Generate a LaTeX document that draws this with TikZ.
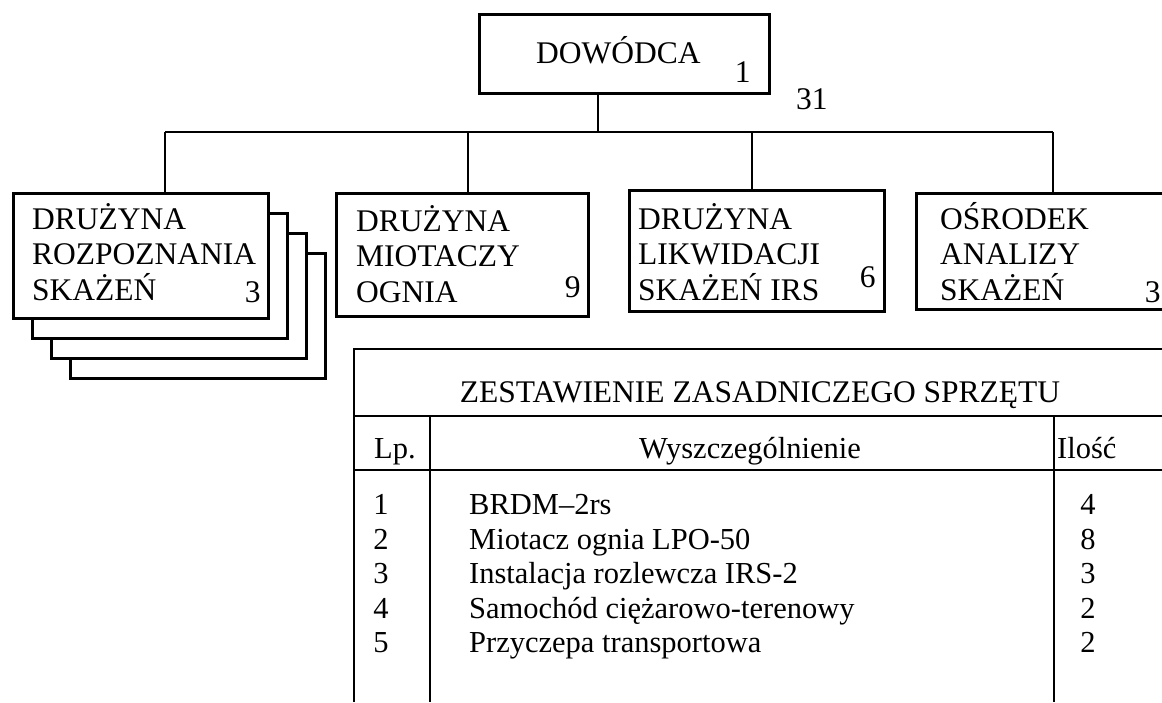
\documentclass[tikz,border=0pt]{standalone}
\usepackage{fontspec}
\setmainfont{Liberation Serif}
\usetikzlibrary{positioning, backgrounds}

\begin{document}
\begin{tikzpicture}[
  x=1pt, y=-1pt,
  %--- style definitions ---
  unitbox/.style  = {rectangle, draw, line width=2.8pt, fill=white,
                     anchor=north west, inner sep=0pt,
                     minimum width=255pt, minimum height=125pt},
  unitname/.style = {align=left, inner sep=0pt, anchor=base west,
                     font=\fontsize{31.5}{35.5}\selectfont},
  headcount/.style= {inner sep=0pt, font=\fontsize{31.5}{35.5}\selectfont},
  link/.style     = {line width=1.3pt},
  tabline/.style  = {line width=1.8pt},
  tabcell/.style  = {inner sep=0pt, anchor=base, font=\fontsize{30.5}{35}\selectfont},
]
\path[use as bounding box] (0,0) rectangle (1162,702);
\clip (0,0) rectangle (1162,702);

%% ── COMMANDER ──────────────────────────────────────────────────────────────
\node[unitbox, minimum width=290pt, minimum height=79pt] (cmd) at (478,13) {};
\node[unitname, below right=50pt and 58pt of cmd.north west, anchor=base west] (cmdT) {DOWÓDCA};
\node[headcount, above left=12pt and 20pt of cmd.south east, anchor=base east] (cmdN) {1};
\node[headcount, below right=15pt and 25pt of cmd.south east, anchor=base west] (total) {31};

%% ── SUBUNITS (anchor = baseline of the last line) ──────────────────────────
\node[unitbox] (rozp) at (12,192) {};
\node[unitname, below right=108pt and 20pt of rozp.north west, anchor=base west] (rozpT)
      {DRUŻYNA\\ROZPOZNANIA\\SKAŻEŃ};
\node[headcount, above left=17pt and 9pt of rozp.south east, anchor=base east] (rozpN) {3};

\node[unitbox, minimum width=252pt, minimum height=123pt] (miot) at (335,192) {};
\node[unitname, below right=110pt and 21pt of miot.north west, anchor=base west] (miotT)
      {DRUŻYNA\\MIOTACZY\\OGNIA};
\node[headcount, above left=20pt and 9pt of miot.south east, anchor=base east] (miotN) {9};

\node[unitbox, minimum height=121pt] (likw) at (628,189) {};
\node[unitname, below right=111pt and 10pt of likw.north west, anchor=base west] (likwT)
      {DRUŻYNA\\LIKWIDACJI\\SKAŻEŃ IRS};
\node[headcount, above left=25pt and 10pt of likw.south east, anchor=base east] (likwN) {6};

\node[unitbox, minimum width=260pt, minimum height=116pt] (osr) at (915,192) {};
\node[unitname, below right=108pt and 25pt of osr.north west, anchor=base west] (osrT)
      {OŚRODEK\\ANALIZY\\SKAŻEŃ};
\node[headcount, above left=8pt and 17pt of osr.south east, anchor=base east] (osrN) {3};

% stacked copies behind the reconnaissance squad
\begin{scope}[on background layer]
  \node[unitbox, below right=60pt and 57pt of rozp.north west] (rozpD) {};
  \node[unitbox, below right=40pt and 38pt of rozp.north west] (rozpC) {};
  \node[unitbox, below right=20pt and 19pt of rozp.north west] (rozpB) {};
\end{scope}

%% ── CONNECTORS ─────────────────────────────────────────────────────────────
\coordinate (bus) at (598,132);
\coordinate (j1) at (165,132);
\coordinate (j2) at (468,132);
\coordinate (j3) at (752,132);
\coordinate (j4) at (1053,132);

\draw[link] (cmd.south -| bus) -- (bus);
\draw[link] (j1) -- (j4);
\draw[link] (j1) -- (j1 |- rozp.north);
\draw[link] (j2) -- (j2 |- miot.north);
\draw[link] (j3) -- (j3 |- likw.north);
\draw[link] (j4) -- (j4 |- osr.north);

%% ── EQUIPMENT TABLE ────────────────────────────────────────────────────────
\draw[tabline] (354,702) -- (354,349) -- (1166,349) -- (1166,702);
\draw[tabline] (354,416) -- (1166,416);
\draw[tabline] (354,470) -- (1166,470);
\draw[tabline] (430,416) -- (430,702);
\draw[tabline] (1054,416) -- (1054,702);

\node[tabcell, font=\fontsize{31.5}{35}\selectfont] (title) at (760,402) {ZESTAWIENIE ZASADNICZEGO SPRZĘTU};

\node[tabcell, anchor=base west] (hLp)    at (374,458)  {Lp.};
\node[tabcell]                   (hWysz)  at (750,458)  {Wyszczególnienie};
\node[tabcell, anchor=base west] (hIlosc) at (1057,458) {Ilość};

\node[tabcell] (lp1) at (381,514) {1};
\node[tabcell] (lp2) at (381,549) {2};
\node[tabcell] (lp3) at (381,583) {3};
\node[tabcell] (lp4) at (381,618) {4};
\node[tabcell] (lp5) at (381,652) {5};

\node[tabcell, anchor=base west] (it1) at (469,514) {BRDM–2rs};
\node[tabcell, anchor=base west] (it2) at (469,549) {Miotacz ognia LPO-50};
\node[tabcell, anchor=base west] (it3) at (469,583) {Instalacja rozlewcza IRS-2};
\node[tabcell, anchor=base west] (it4) at (469,618) {Samochód ciężarowo-terenowy};
\node[tabcell, anchor=base west] (it5) at (469,652) {Przyczepa transportowa};

\node[tabcell] (qt1) at (1088,514) {4};
\node[tabcell] (qt2) at (1088,549) {8};
\node[tabcell] (qt3) at (1088,583) {3};
\node[tabcell] (qt4) at (1088,618) {2};
\node[tabcell] (qt5) at (1088,652) {2};

\end{tikzpicture}
\end{document}
